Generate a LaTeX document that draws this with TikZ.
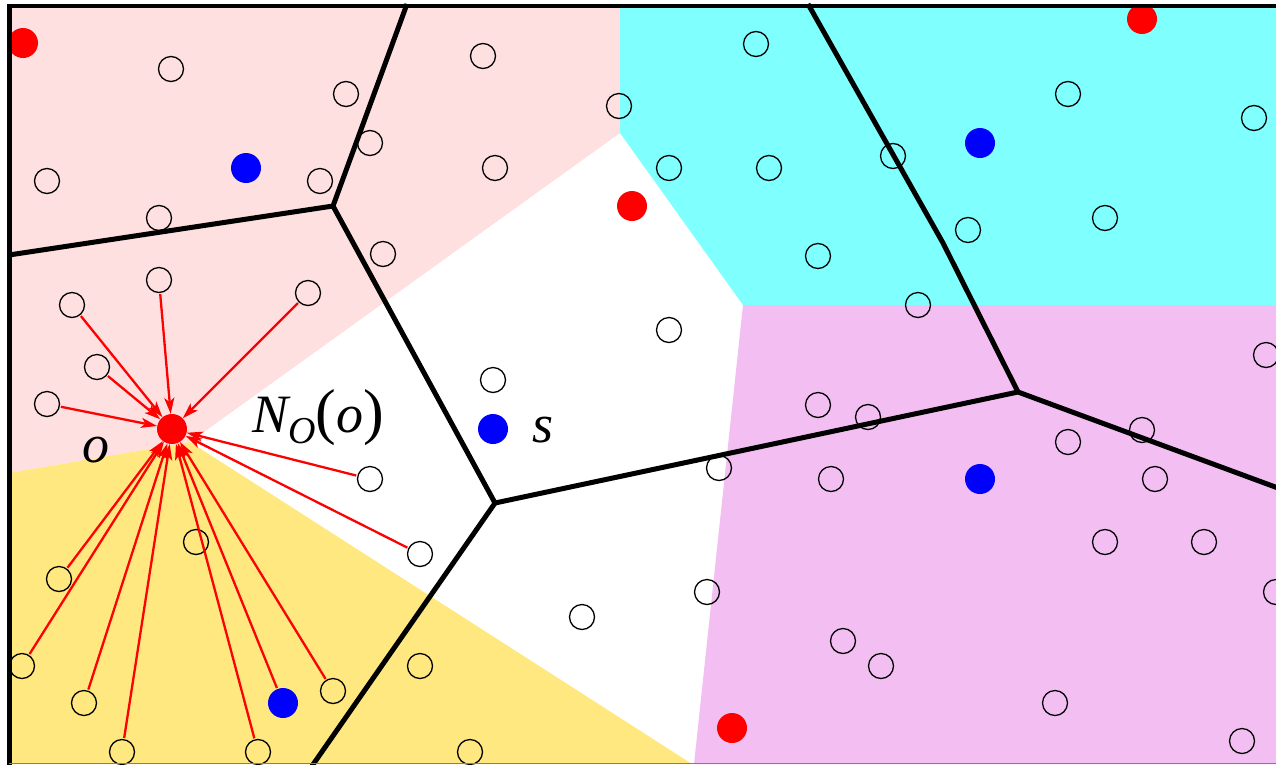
\documentclass[tikz,border=0pt]{standalone}
\usepackage{fontspec}
\setmainfont{Liberation Serif}
\usetikzlibrary{arrows.meta}
\definecolor{pinkc}{RGB}{255,224,224}
\definecolor{cyanc}{RGB}{128,255,255}
\definecolor{magc}{RGB}{243,191,243}
\definecolor{yelc}{RGB}{255,232,128}
\tikzset{
  site/.style={circle,draw=black,line width=1.3pt,minimum size=25pt,inner sep=0pt},
  rdot/.style={circle,fill=red,minimum size=30pt,inner sep=0pt},
  bdot/.style={circle,fill=blue,minimum size=30pt,inner sep=0pt},
  vedge/.style={line width=5pt,line join=round},
  arr/.style={red,line width=2.3pt,-{Stealth[length=16pt,width=10pt,inset=4pt]},shorten <=1pt},
  lab/.style={font=\fontsize{54}{60}\selectfont\itshape,inner sep=0pt,anchor=base}
}
\begin{document}
\begin{tikzpicture}[x=1pt,y=-1pt]
\useasboundingbox (0,0) rectangle (1276,764);
% regions
\fill[pinkc] (9,6) -- (620,6) -- (620,133) -- (190,442) -- (9,473) -- cycle;
\fill[yelc] (9,473) -- (190,442) -- (692,764) -- (9,764) -- cycle;
\fill[cyanc] (620,6) -- (1276,6) -- (1276,305) -- (743,305) -- (620,133) -- cycle;
\fill[magc] (743,305) -- (1276,305) -- (1276,764) -- (694,764) -- cycle;
% voronoi edges
\coordinate (v1) at (333,206);
\coordinate (v2) at (495,503);
\coordinate (v3) at (1018,392);
\coordinate (t1) at (407,4);
\coordinate (t2) at (808,4);
\coordinate (l1) at (9,255);
\coordinate (b1) at (312,766);
\coordinate (r1) at (1278,488);
\coordinate (k1) at (943,243);
\draw[vedge] (t1) -- (v1) -- (l1);
\draw[vedge] (v1) -- (v2) -- (b1);
\draw[vedge] (v2) -- (v3) -- (r1);
\draw[vedge] (t2) -- (k1) -- (v3);
% sites
\foreach \n/\x/\y in {1/171/69,2/346/94,3/370/143,4/47/181,5/320/181,6/159/218,7/383/254,
  8/72/305,9/159/280,10/308/293,11/97/367,12/47/404,13/370/479,14/493/380,15/59/579,
  16/196/542,17/22/666,18/84/703,19/122/752,20/258/752,21/333/691,22/420/554,23/420/666,
  24/470/752,25/483/56,26/619/106,27/495/168,28/669/168,29/769/168,30/756/44,31/818/256,
  32/1068/94,33/1254/118,34/893/156,35/968/230,36/1105/218,37/918/305,38/669/330,
  39/719/468,40/818/405,41/707/592,42/582/617,43/1266/355,44/868/417,45/1068/442,
  46/1142/430,47/831/479,48/1155/479,49/1105/542,50/1204/542,51/1276/592,52/843/641,
  53/881/666,54/1055/703,55/1242/741}
  \node[site] (c\n) at (\x,\y) {};
% red and blue dots
\node[rdot] (r1d) at (23,43) {};
\node[rdot] (r2d) at (632,206) {};
\node[rdot] (r3d) at (1142,19) {};
\node[rdot] (r4d) at (732,728) {};
\node[rdot] (o) at (172,429) {};
\node[bdot] (b1d) at (246,168) {};
\node[bdot] (s) at (493,429) {};
\node[bdot] (b3d) at (980,143) {};
\node[bdot] (b4d) at (980,479) {};
\node[bdot] (b5d) at (283,703) {};
% arrows to o
\foreach \src in {c8,c9,c10,c11,c12,c13,c22,c21,b5d,c20,c19,c18,c17,c15}
  \draw[arr] (\src) -- (o);
% labels
\node[lab] (lo) at (96,462) {o};
\node[lab] (ls) at (543,442) {s};
\node[lab,anchor=base west] (lno) at (252,432) {N\raisebox{-0.22em}{\fontsize{38}{40}\selectfont O}{\fontsize{62}{64}\selectfont\upshape(}o{\fontsize{62}{64}\selectfont\upshape)}};
% frame
\draw[line width=4.5pt] (9.5,766) -- (9.5,6) -- (1278,6);
\draw[line width=0.8pt,gray] (9,763.5) -- (1276,763.5);
\end{tikzpicture}
\end{document}
